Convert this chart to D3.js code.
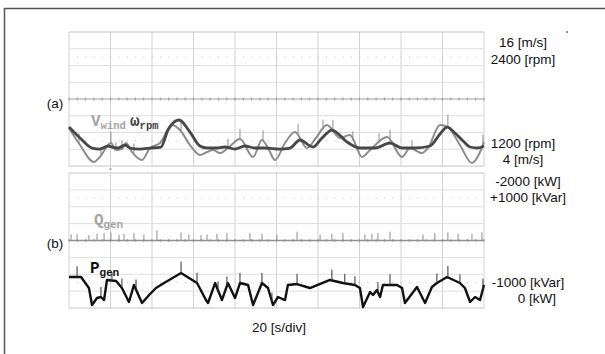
<!DOCTYPE html>
<html><head><meta charset="utf-8">
<script src="https://cdn.jsdelivr.net/npm/d3@7"></script>
<style>body{margin:0;background:#fff}svg{display:block}text{font-family:"Liberation Sans",Arial,sans-serif}</style>
</head><body><svg id="c" width="605" height="354"></svg>
<script>
// ---- data (time in s, 20 s/div) ----
const rpmT = [0,5.3,11.1,14.9,18.8,20.7,23.6,27.0,29.4,34.2,39.0,44.3,47.7,53.0,58.3,63.1,66.5,70.4,75.2,80.0,84.8,89.6,94.5,101.7,106.5,111.3,117.6,121.9,126.7,134.0,140.2,147.5,154.7,160.5,166.7,174.0,178.8,182.2,186.0,189.9,193.3,197.1,200];
const rpmV = [1549,1451,1361,1352,1379,1370,1361,1388,1361,1352,1361,1370,1522,1612,1504,1379,1361,1361,1370,1352,1379,1361,1361,1352,1361,1433,1370,1451,1522,1415,1361,1361,1406,1361,1361,1379,1487,1549,1496,1424,1370,1361,1379];
const windT = [0,5.3,12.0,14.9,20.2,22.6,25.5,27.5,30.4,35.2,39.0,43.9,49.6,53.5,58.3,63.1,66.5,69.4,72.8,76.6,82.4,88.7,93.0,95.9,99.3,104.1,108.9,114.7,119.0,124.3,130.6,135.4,141.2,145.1,153.3,160.5,164.3,170.1,173.0,178.8,182.6,188.4,194.2,198.1,200];
const windV = [7.40,5.88,4.36,4.81,6.06,5.43,5.52,6.06,5.25,4.54,5.61,6.06,7.67,7.22,5.88,4.99,5.25,5.43,5.16,5.61,6.42,4.81,6.33,5.61,4.54,6.06,7.04,5.61,6.51,7.67,6.51,6.78,4.81,5.43,6.60,4.81,5.61,5.16,5.61,7.67,7.49,5.88,4.27,5.25,6.15];
const windSpikeT = [4.8,15.4,20.2,22.6,25.5,31.3,54.0,76.6,82.4,93.5,110.4,122.4,127.2,136.8,149.4,154.7,165.3,182.6,199.5];
const windSpikeH = [0.9,0.8,1.0,0.7,0.8,0.9,1.1,0.8,0.9,1.0,1.1,0.9,1.0,0.8,0.9,1.0,0.8,1.1,0.9];
const pT = [0,5.8,9.6,11.1,13.5,15.4,16.9,18.3,22.7,25.5,28.9,31.3,35.2,38.6,41.9,45.8,54.0,61.7,66.0,67.0,70.4,73.7,76.6,80.0,82.4,86.3,88.7,93.0,95.9,98.3,100.7,104.1,105.5,109.9,116.1,125.8,132.0,137.8,140.2,141.7,145.1,146.5,148.4,149.9,151.3,158.1,160.5,161.9,167.7,171.6,174.9,177.3,182.2,188.4,190.8,193.3,195.7,198.1,200];
const pV = [-459,-459,-296,-44,-148,-163,-118,-415,-400,-296,-89,-341,-74,-193,-296,-370,-518,-370,-118,-74,-370,-118,-370,-148,-370,-341,-44,-370,-296,-44,-163,-118,-341,-355,-296,-415,-370,-341,-296,-15,-237,-193,-267,-163,-341,-341,-296,-74,-311,-74,-311,-370,-459,-370,-296,-89,-163,-118,-341];
const pSpikeT = [3.9,15.4,20.7,25.5,32.3,54.0,61.7,71.8,76.1,82.4,93.0,97.8,109.9,126.7,132.9,137.8,148.9,154.7,177.3,182.6,188.4,199.5];
const pSpikeH = [160,150,120,140,150,170,150,130,140,150,150,130,150,160,140,130,150,160,140,170,130,150];
const qT = [0,50,100,150,200];
const qV = [0,0,0,0,0];
const qSpikeT = [1.0,3.9,9.6,13.5,16.9,20.2,24.1,26.5,31.3,36.1,42.4,54.0,57.8,63.6,66.5,71.3,76.1,87.2,93.0,100.2,109.9,121.0,126.7,132.0,142.6,146.0,148.9,154.7,170.6,176.3,182.6,187.5,194.2,199.0];
const qSpikeH = [90,100,80,100,110,120,90,100,110,90,150,120,90,80,90,100,110,110,100,90,130,90,100,110,90,100,110,130,90,110,120,100,100,120];
const xTicks = [0,20,40,60,80,100,120,140,160,180,200];

const svg = d3.select("#c");
const x = d3.scaleLinear([0,200],[69,484]);
const yRpm = d3.scaleLinear([1200,2400],[166,32]);
const yWind = d3.scaleLinear([4,16],[166,32]);
const yP = d3.scaleLinear([0,-2000],[308,173]);
const yQ = d3.scaleLinear([-1000,1000],[308,173]);

// outer frame (top + left)
svg.append("path").attr("d","M4.5,354V8.5H605").attr("fill","none").attr("stroke","#555").attr("stroke-width",1.5);

function panel(y, lo, hi, step){
  const g = svg.append("g");
  const y0 = y(lo), y1 = y(hi);
  g.selectAll(".v").data(xTicks).join("line")
    .attr("x1",d=>x(d)).attr("x2",d=>x(d)).attr("y1",y1).attr("y2",y0)
    .attr("stroke","#d2d2d2").attr("stroke-width",1);
  const hs = d3.range(lo, hi+step/2, step);
  g.selectAll(".h").data(hs).join("line")
    .attr("x1",x(0)).attr("x2",x(200)).attr("y1",d=>y(d)).attr("y2",d=>y(d))
    .attr("stroke",(d,i)=> (i===0||i===hs.length-1)?"#c4c4c4":"#dedede").attr("stroke-width",1);
  [lo+1.5*step, hi-1.5*step].forEach(v=>{
    g.append("line").attr("x1",x(0)+8).attr("x2",x(200)).attr("y1",y(v)).attr("y2",y(v))
     .attr("stroke","#bbb").attr("stroke-width",1).attr("stroke-dasharray","1,7.3");
  });
  const mid = (lo+hi)/2;
  g.append("line").attr("x1",x(0)).attr("x2",x(200)).attr("y1",y(mid)).attr("y2",y(mid))
    .attr("stroke","#aaa").attr("stroke-width",1);
  g.selectAll(".t").data(d3.range(0,200.1,4)).join("line")
    .attr("x1",d=>x(d)).attr("x2",d=>x(d)).attr("y1",y(mid)-1.5).attr("y2",y(mid)+1.5)
    .attr("stroke","#999").attr("stroke-width",1);
}
panel(yRpm,1200,2400,150);
panel(yQ,-1000,1000,250);

// trigger marker
svg.append("path").attr("d",`M${x(20)-1.5},170L${x(20)+1.5},170L${x(20)},167Z`).attr("fill","#aaa");

function series(T,V,y,color,w,curve){
  const line = d3.line().x((d,i)=>x(T[i])).y(d=>y(d)).curve(curve||d3.curveLinear);
  svg.append("path").attr("d",line(V)).attr("fill","none").attr("stroke",color)
    .attr("stroke-width",w).attr("stroke-linejoin","round");
}
function spikes(ST,SH,T,V,y,color,w,sign){
  const interp = d3.scaleLinear(T,V);
  svg.append("g").selectAll("line").data(ST).join("line")
    .attr("x1",d=>x(d)).attr("x2",d=>x(d))
    .attr("y1",d=>y(interp(d)))
    .attr("y2",(d,i)=>y(interp(d)+sign*SH[i]))
    .attr("stroke",color).attr("stroke-width",w);
}
series(windT,windV,yWind,"#8c8c8c",2,d3.curveMonotoneX);
spikes(windSpikeT,windSpikeH,windT,windV,yWind,"#8c8c8c",1,1);
series(rpmT,rpmV,yRpm,"#474747",2.8,d3.curveMonotoneX);
series(qT,qV,yQ,"#8f8f8f",1.6);
spikes(qSpikeT,qSpikeH,qT,qV,yQ,"#8f8f8f",1,1);
series(pT,pV,yP,"#111",2.4);
spikes(pSpikeT,pSpikeH,pT,pV,yP,"#333",1,-1);

// legends
const mono = '"Liberation Mono","Courier New",monospace';
function legend(xp,yp,main,sub,color,subFont,subSize){
  const t = svg.append("text").attr("x",xp).attr("y",yp).attr("fill",color).attr("font-weight","bold");
  t.append("tspan").text(main).attr("font-family",mono).attr("font-size",16);
  t.append("tspan").text(sub).attr("font-family",subFont).attr("font-size",subSize).attr("dy",3);
}
legend(91,126,"V","wind","#a5a5a5",mono,10.5);
legend(130,126,"ω","rpm","#444",mono,10.5);
legend(94,225,"Q","gen","#a5a5a5",'"Liberation Sans",Arial,sans-serif',11);
legend(90,273,"P","gen","#111",'"Liberation Sans",Arial,sans-serif',11);

// labels
const labels = [
  ["(a)",55,108,"middle"],["(b)",55,248,"middle"],
  ["16 [m/s]",523,47,"middle"],["2400 [rpm]",523,64,"middle"],
  ["1200 [rpm]",523,148,"middle"],["4 [m/s]",523,164,"middle"],
  ["-2000 [kW]",528,186,"middle"],["+1000 [kVar]",528,202,"middle"],
  ["-1000 [kVar]",528,287,"middle"],["0 [kW]",537,303,"middle"],
  ["20 [s/div]",279,332,"middle"]
];
svg.append("g").selectAll("text").data(labels).join("text")
  .attr("x",d=>d[1]).attr("y",d=>d[2]).attr("text-anchor",d=>d[3])
  .attr("font-size",13.5).attr("fill","#111").text(d=>d[0]);
svg.append("line").attr("x1",566).attr("x2",568).attr("y1",32).attr("y2",32).attr("stroke","#333").attr("stroke-width",1);
</script></body></html>
